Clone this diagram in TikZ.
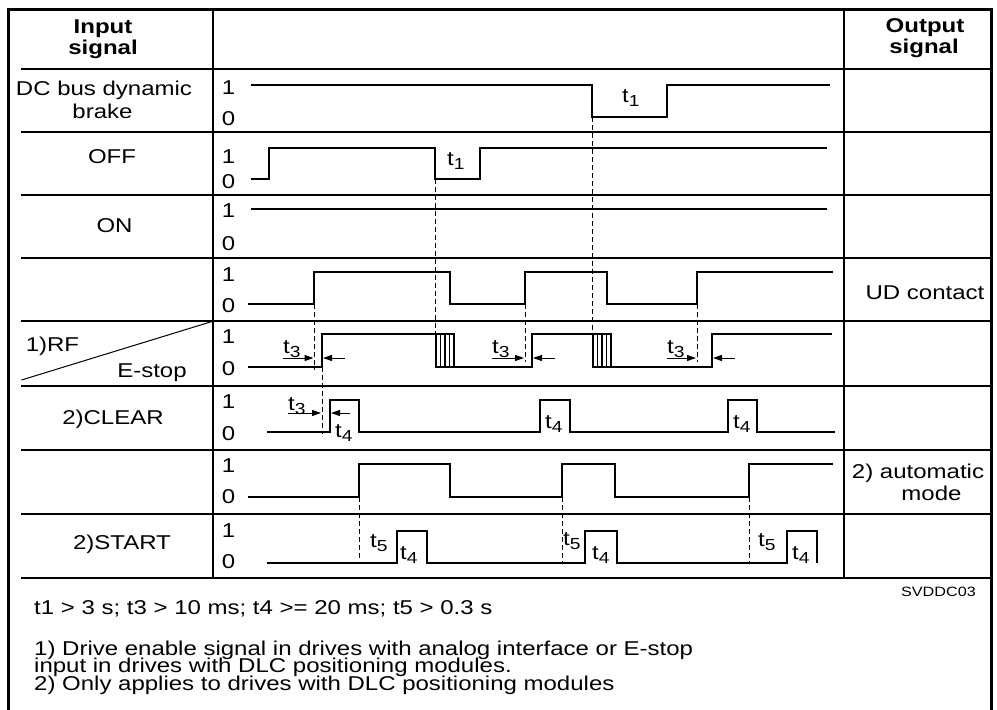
\documentclass[tikz,border=0pt]{standalone}
\usepackage{fontspec}
\setmainfont{Liberation Sans}[FakeStretch=1.2]
\usetikzlibrary{arrows.meta}
\newcommand{\tsub}[1]{t\raisebox{-4pt}{\fontsize{16}{16}\selectfont #1}}
\begin{document}
\begin{tikzpicture}[x=1pt,y=-1pt,
  txt/.style={font=\fontsize{20}{20}\selectfont, inner sep=0pt, anchor=base},
  btxt/.style={font=\fontsize{20}{20}\selectfont\bfseries, inner sep=0pt, anchor=base},
  tlab/.style={font=\fontsize{20}{20}\selectfont, inner sep=0pt, anchor=base west},
  frame/.style={line width=3pt},
  colline/.style={line width=2pt},
  rowline/.style={line width=1.1pt},
  sig/.style={line width=2pt, line join=miter},
  hatch/.style={line width=1.3pt},
  guide/.style={line width=1pt, dash pattern=on 5pt off 3pt},
  tarr/.style={line width=1pt, -{Triangle[length=9pt,width=6pt]}}]
\useasboundingbox (0,0) rectangle (997,710);
% frame
\draw[frame] (8.5,720) -- (8.5,9) -- (991.5,9) -- (991.5,720);
\foreach \y in {69,132,195,258,321,386,450,514,578}
  \draw[rowline] (21,\y) -- (991,\y);
\draw[colline] (212.5,9) -- (212.5,578);
\draw[colline] (843.5,9) -- (843.5,578);
\draw[line width=1pt] (21.5,380) -- (212,321.5);
% header
\node[btxt] (in1) at (103,33) {Input};
\node[btxt] (in2) at (103,54) {signal};
\node[btxt] (out1) at (925,32) {Output};
\node[btxt] (out2) at (924,53) {signal};
% row labels
\node[txt] (dc1) at (104,95) {DC bus dynamic};
\node[txt] (dc2) at (102.5,118) {brake};
\node[txt] (off) at (112,163) {OFF};
\node[txt] (on) at (114.5,232) {ON};
\node[txt] (rf) at (52.5,351) {1)RF};
\node[txt] (es) at (152,377) {E-stop};
\node[txt] (clr) at (113,424) {2)CLEAR};
\node[txt] (st) at (122,549) {2)START};
\node[txt] (ud) at (925,299) {UD contact};
\node[txt] (am1) at (918,478) {2) automatic};
\node[txt] (am2) at (931.5,500) {mode};
% level digits
\foreach \a/\b [count=\i] in {94/125,163/188,217/250,281/312,343/375,408/440,472/503,537/568}{
  \node[txt] (one\i) at (228.5,\a) {1};
  \node[txt] (zero\i) at (228.5,\b) {0};
}
% signals
\draw[sig] (251,84.5) -- (592,84.5) -- (592,116.5) -- (667,116.5) -- (667,84.5) -- (830,84.5);
\draw[sig] (251,179) -- (269,179) -- (269,148) -- (435,148) -- (435,179) -- (480,179) -- (480,148) -- (827,148);
\draw[sig] (251,209) -- (827,209);
\draw[sig] (248,304) -- (314,304) -- (314,272) -- (450,272) -- (450,304) -- (525,304) -- (525,272) -- (607,272) -- (607,304) -- (697,304) -- (697,272) -- (833,272);
\draw[sig] (248,367) -- (322,367) -- (322,334) -- (454,334) -- (454,367);
\draw[sig] (436,334) -- (436,367) -- (532,367) -- (532,334) -- (611,334) -- (611,367);
\draw[sig] (593,334) -- (593,367) -- (712,367) -- (712,334) -- (832,334);
\foreach \x in {440.5,445,449.5,597.5,602,606.5}
  \draw[hatch] (\x,334) -- (\x,367);
\draw[sig] (267,432) -- (330,432) -- (330,400) -- (359,400) -- (359,432) -- (540,432) -- (540,400) -- (570,400) -- (570,432) -- (728,432) -- (728,400) -- (757,400) -- (757,432) -- (835,432);
\draw[sig] (248,497) -- (359,497) -- (359,464) -- (450,464) -- (450,497) -- (562,497) -- (562,464) -- (615,464) -- (615,497) -- (749,497) -- (749,464) -- (833,464);
\draw[sig] (267,563) -- (397,563) -- (397,531) -- (427,531) -- (427,563) -- (585,563) -- (585,531) -- (617,531) -- (617,563) -- (787,563) -- (787,531) -- (817,531) -- (817,563);
% dashed guides
\draw[guide] (435,179) -- (435,334);
\draw[guide] (592,116.5) -- (592,334);
\draw[guide] (314,304) -- (314,370);
\draw[guide] (525,304) -- (525,362);
\draw[guide] (697,304) -- (697,362);
\draw[guide] (322,367) -- (322,434);
\draw[guide] (359,497) -- (359,560);
\draw[guide] (562,497) -- (562,563);
\draw[guide] (749,497) -- (749,563);
% t3 arrows
\draw[tarr] (283,358) -- (313.5,358);
\draw[tarr] (345,358) -- (323,358);
\draw[tarr] (492,358) -- (524,358);
\draw[tarr] (555,358) -- (533,358);
\draw[tarr] (667,358) -- (696,358);
\draw[tarr] (735,358) -- (713,358);
\draw[tarr] (288,413) -- (321,413);
\draw[tarr] (350,413) -- (331,413);
% time labels
\node[tlab] (t1a) at (622,102) {\tsub{1}};
\node[tlab] (t1b) at (447,165) {\tsub{1}};
\node[tlab] (t3a) at (283,353) {\tsub{3}};
\node[tlab] (t3b) at (492,353) {\tsub{3}};
\node[tlab] (t3c) at (667,353) {\tsub{3}};
\node[tlab] (t3d) at (288,410) {\tsub{3}};
\node[tlab] (t4a) at (335,437) {\tsub{4}};
\node[tlab] (t4b) at (545,428) {\tsub{4}};
\node[tlab] (t4c) at (733,428) {\tsub{4}};
\node[tlab] (t5a) at (370,547) {\tsub{5}};
\node[tlab] (t4d) at (400,559) {\tsub{4}};
\node[tlab] (t5b) at (563,545) {\tsub{5}};
\node[tlab] (t4e) at (592,559) {\tsub{4}};
\node[tlab] (t5c) at (758,546) {\tsub{5}};
\node[tlab] (t4f) at (792,559) {\tsub{4}};
% footer
\node[font=\fontsize{13.5}{13.5}\selectfont, inner sep=0pt, anchor=base east] (code) at (976,596) {SVDDC03};
\node[tlab] (f1) at (34,614) {t1 > 3 s; t3 > 10 ms; t4 >= 20 ms; t5 > 0.3 s};
\node[tlab] (f2) at (34,655) {1) Drive enable signal in drives with analog interface or E-stop};
\node[tlab] (f3) at (34,672) {input in drives with DLC positioning modules.};
\node[tlab] (f4) at (34,690) {2) Only applies to drives with DLC positioning modules};
\end{tikzpicture}
\end{document}
